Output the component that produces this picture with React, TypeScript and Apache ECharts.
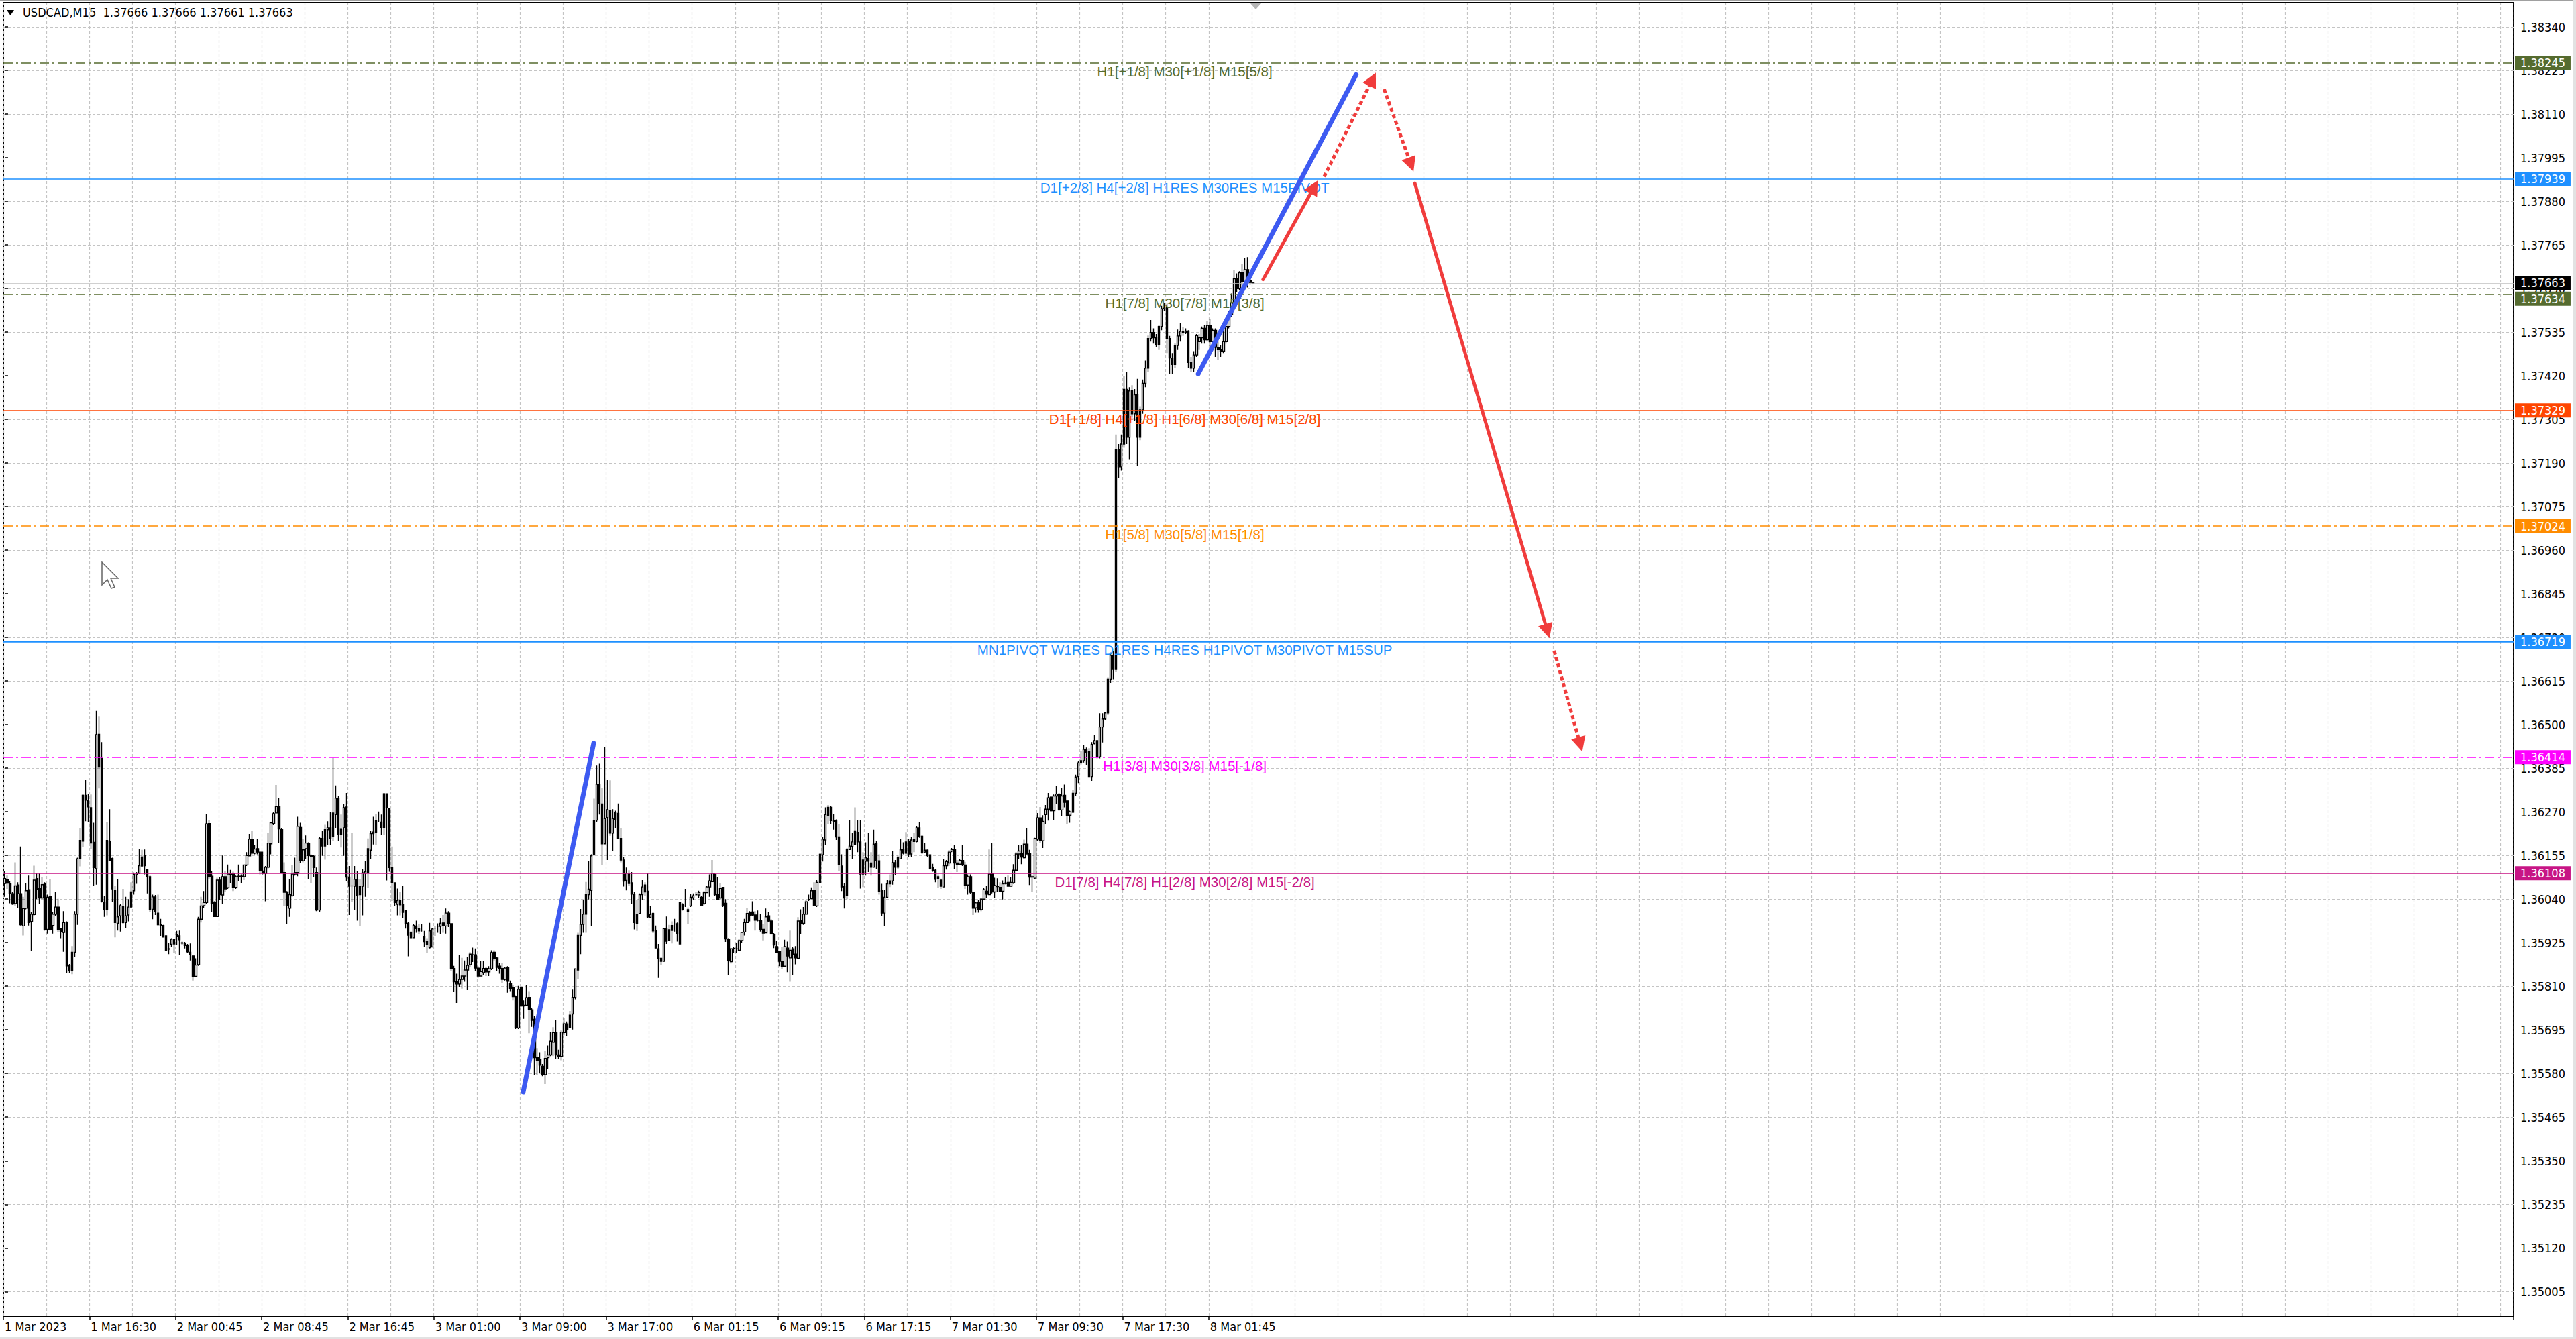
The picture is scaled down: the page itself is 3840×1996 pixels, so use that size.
import React, { useEffect, useRef } from 'react';
import * as echarts from 'echarts';

// the window holds 933 M15 slots; bars stop at 464, the rest is chart-shift space
const SLOTS = 933;
const BASE = 1.35;
const POINT = 0.00001;

// candles as [open, close, low, high], in points above 1.35000
const candles1 = [
  [1081,1094,1046,1114],[1092,1082,1067,1102],[1081,1054,1029,1087],[1054,1027,1025,1058],[1028,1075,1023,1137],
  [1077,1055,1016,1084],[1054,972,970,1179],[969,1015,944,1046],[1016,1062,1013,1081],[1065,978,970,1102],
  [981,1000,904,1005],[999,1090,996,1128],[1094,1065,1040,1108],[1068,1043,1028,1108],[1043,1078,1040,1099],
  [1080,960,957,1084],[960,1045,949,1052],[1047,960,957,1092],[970,1000,949,1005],[1000,1019,996,1059],
  [1019,960,953,1041],[962,953,937,963],[952,978,901,1008],[978,864,846,981],[866,851,846,869],
  [851,900,842,916],[900,1000,887,1008],[1000,1146,972,1149],[1146,1195,1126,1228],[1193,1314,1177,1317],
  [1314,1301,1245,1355],[1300,1283,1244,1317],[1281,1188,1173,1316],[1190,1123,1075,1241],[1120,1474,1078,1536],
  [1475,1388,1332,1521],[1411,1034,1031,1454],[1031,1013,993,1049],[1013,1195,997,1242],[1193,1142,1140,1277],
  [1147,1067,1033,1149],[1064,978,939,1075],[976,993,957,1092],[996,1023,954,1028],[1021,978,974,1067],
  [978,996,963,1046],[998,1019,981,1040],[1019,1059,1016,1084],[1062,1105,1052,1110],[1104,1108,1080,1111],
  [1108,1128,1106,1173],[1127,1151,1126,1170],[1155,1128,1105,1171],[1117,1099,1055,1120],[1099,1013,1006,1102],
  [1013,1046,987,1052],[1046,1008,998,1051],[1003,972,970,1052],[972,970,943,988],[970,940,939,972],
  [943,905,904,944],[909,908,895,925],[921,934,915,937],[922,933,898,935],[946,941,919,956],
  [943,933,892,957],[925,924,919,928],[923,918,910,927],[918,901,898,922],[900,893,878,923],
  [890,836,825,893],[836,866,835,884],[867,987,864,993],[987,1022,978,1046],[1023,1031,1016,1061],
  [1031,1238,1028,1264],[1239,1099,1094,1248],[1100,1028,1005,1114],[1031,994,993,1034],[994,1090,993,1096],
  [1090,1052,1037,1099],[1051,1099,1028,1155],[1099,1067,1058,1114],[1070,1106,1067,1131],[1105,1106,1081,1117],
  [1107,1070,1061,1112],[1071,1099,1067,1102],[1099,1100,1087,1131],[1099,1100,1081,1105],[1099,1130,1090,1131],
  [1130,1155,1127,1164],[1154,1198,1153,1212],[1198,1161,1158,1220],[1161,1172,1158,1182],[1173,1164,1158,1198],
  [1164,1114,1105,1165],[1114,1107,1105,1165],[1107,1124,1034,1127],[1124,1188,1121,1214],[1186,1241,1158,1244],
  [1239,1265,1235,1270],[1267,1284,1266,1341],[1284,1225,1188,1306],[1223,1110,1108,1226],[1110,1058,1022,1137],
  [1059,1022,974,1061],[1016,1052,993,1093],[1049,1106,1046,1130],[1106,1110,1102,1149],[1110,1232,1100,1257],
  [1229,1141,1134,1241],[1141,1170,1137,1199],[1173,1188,1146,1208],[1188,1155,1093,1190],[1154,1153,1081,1158],
  [1153,1123,1099,1157],[1110,1011,1008,1123],
];

const candles2 = [
  [1011,1200,1007,1204],[1200,1180,1154,1221],[1180,1223,1144,1236],[1223,1228,1182,1245],[1228,1200,1182,1269],
  [1206,1267,1193,1413],[1263,1306,1227,1340],[1306,1210,1193,1312],[1210,1224,1176,1263],[1228,1281,1154,1291],
  [1283,1098,1088,1320],[1098,1074,998,1127],[1075,1075,1032,1215],[1074,1092,1011,1127],[1092,1050,983,1113],
  [1052,1074,968,1092],[1074,1109,997,1120],[1108,1112,1046,1140],[1110,1173,1070,1200],[1169,1213,1145,1221],
  [1213,1217,1184,1257],[1217,1248,1183,1264],[1248,1248,1242,1271],[1243,1228,1210,1263],[1228,1318,1210,1320],
  [1318,1281,1089,1319],[1278,1123,1112,1281],[1123,1083,1035,1179],[1083,1031,1021,1084],[1026,1036,997,1068],
  [1036,1025,997,1060],[1026,1005,989,1075],[1011,976,962,1011],[976,945,889,980],[952,938,938,955],
  [938,970,938,975],[969,962,951,983],[962,956,948,973],[958,958,954,973],[941,928,914,956],
  [928,921,899,937],[912,956,910,977],[914,961,914,963],[963,963,942,968],[968,968,951,976],
  [968,976,948,990],[977,970,951,998],[969,1003,949,1015],[1003,975,966,1008],[975,856,850,976],
  [857,822,795,864],[823,816,766,843],[816,828,807,892],[828,837,804,885],[837,853,822,878],
  [853,865,800,888],[867,895,861,900],[893,893,874,912],[893,858,850,910],[858,837,832,863],
  [837,849,836,877],[846,857,839,877],[857,848,837,861],[848,856,837,863],[856,899,853,905],
  [900,884,878,905],[885,860,850,888],[863,857,843,871],[857,828,819,871],[828,858,825,860],
  [860,823,793,863],[818,804,797,825],[807,783,773,812],[783,700,697,786],[700,802,697,811],
  [807,758,756,809],[758,760,724,773],[760,780,758,814],[781,748,686,797],[748,720,703,752],
  [723,622,577,731],[622,615,577,647],[618,602,581,636],[599,577,573,605],[577,620,552,640],
  [622,629,591,654],[629,665,626,690],[662,688,626,702],[688,629,619,720],[629,626,618,643],
  [625,689,615,693],[688,711,681,727],[711,696,678,717],[702,734,700,745],[737,781,696,801],
  [781,856,776,857],[853,944,830,951],[944,973,895,1014],[973,1000,951,1038],[1000,1052,951,1085],
  [1052,1066,1039,1140],[1063,1154,969,1158],[1157,1246,1154,1305],[1248,1343,1242,1392],[1343,1291,1263,1397],
  [1291,1186,1130,1333],[1186,1252,1186,1441],[1255,1276,1143,1355],[1274,1214,1207,1353],[1214,1252,1168,1277],
  [1269,1250,1227,1273],[1266,1201,1200,1292],[1200,1143,1137,1228],[1143,1087,1073,1151],[1089,1108,1063,1123],
  [1108,1081,1074,1116],
];

const candles3 = [
  [1083,1053,1028,1111],[1053,978,960,1058],[976,999,956,1037],[1002,1052,1000,1055],[1052,1072,1037,1090],
  [1077,1059,1049,1084],[1061,993,990,1108],[992,999,990,1022],[1002,956,950,1005],[957,911,911,970],
  [909,884,832,922],[884,876,866,885],[876,962,875,963],[962,929,922,994],[931,959,929,972],
  [957,970,923,981],[974,974,954,988],[975,949,928,978],[922,1031,921,1033],[1027,1013,1010,1029],
  [1022,1022,1019,1067],[1012,1008,974,1018],[1022,1045,1019,1053],[1043,1049,1037,1055],[1052,1052,1049,1059],
  [1051,1057,1043,1062],[1045,1023,1021,1049],[1028,1057,1025,1061],[1057,1072,1057,1075],[1072,1088,1046,1105],
  [1086,1108,1084,1143],[1105,1052,1049,1108],[1053,1040,1037,1099],[1043,1068,1037,1082],[1071,1023,1019,1072],
  [1029,935,927,1040],[935,878,839,937],[875,909,870,911],[910,910,898,915],[909,909,898,925],
  [905,931,903,935],[931,952,925,953],[953,978,944,988],[978,1002,978,1016],[1005,996,981,1008],
  [1006,998,996,1034],[998,984,957,1008],[984,984,981,1010],[984,960,954,1000],[960,950,931,975],
  [951,993,950,1015],[996,982,980,1005],[982,949,946,987],[947,919,911,950],[915,900,898,929],
  [901,876,863,903],[876,863,856,915],[863,915,863,933],[911,890,847,928],[885,905,822,957],
  [909,895,839,915],[895,885,868,916],[884,982,882,992],[984,976,947,1013],[976,1000,972,1019],
  [1000,1033,1000,1037],[1039,1039,1035,1052],[1041,1062,1040,1071],[1062,1023,1021,1084],[1022,1084,1019,1090],
  [1084,1158,1081,1161],[1157,1198,1139,1205],[1196,1263,1183,1282],[1261,1282,1238,1288],[1282,1247,1238,1285],
  [1248,1245,1223,1264],[1246,1204,1196,1250],[1204,1130,1114,1238],[1127,1072,1061,1158],[1074,1043,1015,1081],
  [1049,1171,1040,1175],[1171,1180,1170,1249],[1179,1191,1145,1214],[1185,1220,1183,1282],[1216,1191,1164,1249],
  [1191,1106,1068,1248],[1106,1143,1072,1164],[1140,1149,1102,1190],[1147,1140,1111,1214],[1135,1124,1102,1164],
  [1124,1185,1123,1223],[1188,1141,1120,1193],[1141,1061,1052,1158],[1062,1003,996,1080],[1003,1045,968,1065],
  [1045,1080,1043,1090],[1080,1088,1072,1105],[1088,1136,1078,1167],[1136,1124,1104,1143],[1124,1149,1120,1155],
  [1146,1170,1145,1199],[1170,1161,1158,1190],[1161,1191,1158,1217],[1192,1159,1151,1199],[1159,1196,1152,1205],
  [1198,1192,1164,1214],[1192,1228,1190,1232],[1228,1205,1202,1242],[1206,1163,1159,1208],[1164,1169,1161,1188],
  [1169,1155,1152,1171],[1157,1121,1118,1158],[1123,1116,1112,1133],[1116,1092,1084,1120],[1094,1099,1069,1105],
  [1090,1074,1067,1094],[1072,1128,1071,1145],[1128,1139,1118,1143],
];

const candles4 = [
  [1135,1164,1127,1169],[1167,1171,1164,1175],[1171,1135,1120,1182],[1135,1132,1111,1143],[1132,1142,1129,1146],
  [1142,1130,1127,1183],[1130,1077,1067,1138],[1077,1099,1052,1105],[1099,1058,1053,1105],[1058,1016,998,1059],
  [1017,1030,1004,1033],[1031,1012,1004,1037],[1012,1040,1008,1043],[1040,1065,1037,1069],[1061,1053,1043,1076],
  [1052,1106,1051,1171],[1108,1059,1055,1188],[1059,1076,1043,1096],[1074,1073,1059,1095],[1071,1061,1058,1084],
  [1061,1080,1039,1089],[1082,1081,1079,1099],[1084,1074,1073,1102],[1074,1084,1073,1099],[1083,1116,1080,1132],
  [1116,1159,1114,1164],[1159,1167,1145,1182],[1161,1151,1132,1183],[1149,1185,1146,1197],[1185,1159,1158,1226],
  [1161,1098,1077,1170],[1098,1099,1059,1102],[1095,1200,1092,1202],[1198,1254,1194,1267],[1254,1194,1189,1283],
  [1194,1245,1175,1261],[1263,1277,1238,1288],[1277,1307,1247,1320],[1309,1273,1270,1312],[1273,1312,1248,1316],
  [1312,1317,1291,1338],[1316,1275,1273,1320],[1275,1312,1260,1334],[1314,1295,1282,1342],[1299,1260,1238,1300],
  [1261,1270,1241,1273],[1269,1319,1267,1328],[1319,1362,1312,1368],[1363,1399,1346,1403],[1399,1405,1395,1431],
  [1405,1435,1400,1446],[1435,1427,1394,1440],[1429,1363,1362,1438],[1363,1448,1352,1454],[1450,1458,1448,1474],
  [1458,1415,1411,1459],[1415,1494,1411,1530],[1494,1515,1453,1530],[1515,1531,1512,1533],
];

const candles5 = [
  [1531,1620,1525,1625],[1620,1683,1610,1690],[1683,1647,1620,1695],[1647,2226,1640,2265],[2226,2180,2150,2240],
  [2180,2240,2170,2265],[2240,2384,2230,2420],[2384,2258,2240,2431],[2258,2380,2200,2390],[2380,2320,2310,2395],
  [2320,2370,2300,2385],[2370,2258,2183,2412],[2258,2330,2250,2340],[2330,2400,2320,2410],[2400,2440,2390,2460],
  [2440,2518,2430,2526],[2518,2534,2510,2567],[2534,2520,2505,2545],[2520,2503,2495,2530],[2503,2550,2490,2555],
  [2550,2597,2540,2605],[2597,2600,2590,2613],[2600,2518,2480,2610],[2518,2467,2424,2525],[2467,2450,2424,2480],
  [2450,2500,2440,2505],[2500,2525,2490,2542],[2525,2537,2510,2560],[2537,2535,2525,2548],[2535,2538,2530,2545],
  [2538,2455,2440,2540],[2455,2440,2430,2470],[2440,2475,2430,2485],[2475,2526,2470,2530],[2510,2520,2490,2530],
  [2520,2545,2505,2550],[2545,2515,2505,2555],[2515,2553,2510,2565],[2553,2510,2498,2570],[2510,2540,2495,2545],
  [2540,2495,2470,2545],[2495,2490,2463,2510],[2490,2485,2470,2500],[2485,2510,2480,2540],[2510,2550,2505,2555],
  [2550,2581,2545,2590],[2581,2613,2575,2637],[2613,2676,2605,2700],[2676,2650,2640,2690],[2650,2692,2645,2696],
  [2692,2668,2660,2715],[2668,2700,2660,2731],[2700,2672,2653,2733],[2672,2666,2660,2675],[2666,2663,2661,2666],
];

const candlePoints = [...candles1, ...candles2, ...candles3, ...candles4, ...candles5];

// time labels, one every 32 bars from bar 0
const xTickLabels = [
  '1 Mar 2023', '1 Mar 16:30', '2 Mar 00:45', '2 Mar 08:45', '2 Mar 16:45',
  '3 Mar 01:00', '3 Mar 09:00', '3 Mar 17:00', '6 Mar 01:15', '6 Mar 09:15',
  '6 Mar 17:15', '7 Mar 01:30', '7 Mar 09:30', '7 Mar 17:30', '8 Mar 01:45',
];
const X_LABEL_EVERY = 32;
const X_GRID_EVERY = 16;

const yTicks = [
  1.35005, 1.3512, 1.35235, 1.3535, 1.35465, 1.3558, 1.35695, 1.3581, 1.35925, 1.3604,
  1.36155, 1.3627, 1.36385, 1.365, 1.36615, 1.3673, 1.36845, 1.3696, 1.37075, 1.3719,
  1.37305, 1.3742, 1.37535, 1.3765, 1.37765, 1.3788, 1.37995, 1.3811, 1.38225, 1.3834,
];
const Y_MIN = 1.3494;
const Y_MAX = 1.38404;

const levelPrices = [1.38245, 1.37939, 1.37634, 1.37329, 1.37024, 1.36719, 1.36414, 1.36108];
const levelTexts = [
  'H1[+1/8] M30[+1/8] M15[5/8]',
  'D1[+2/8] H4[+2/8] H1RES M30RES M15PIVOT',
  'H1[7/8] M30[7/8] M15[3/8]',
  'D1[+1/8] H4[+1/8] H1[6/8] M30[6/8] M15[2/8]',
  'H1[5/8] M30[5/8] M15[1/8]',
  'MN1PIVOT W1RES D1RES H4RES H1PIVOT M30PIVOT M15SUP',
  'H1[3/8] M30[3/8] M15[-1/8]',
  'D1[7/8] H4[7/8] H1[2/8] M30[2/8] M15[-2/8]',
];
const bidPrice = 1.37663;
const ohlcHeader = 'USDCAD,M15  1.37666 1.37666 1.37661 1.37663';

// hand-drawn objects, points are [bar index, price]
const blueTrends = [
  [[192.7, 1.35531], [218.9, 1.36451]],
  [[443.6, 1.37425], [502.3, 1.38214]],
];
const redArrows = [
  [[467.7, 1.37674], [486.7, 1.37918]],
  [[524.1, 1.37928], [573.4, 1.36747]],
];
const redDottedArrows = [
  [[490.4, 1.37945], [508.4, 1.38202]],
  [[512.7, 1.38176], [522.7, 1.37977]],
  [[575.9, 1.36695], [585.6, 1.36448]],
];
const LEVEL_TEXT_BAR = 438.6;
const SHIFT_MARK_BAR = 465;

const AXIS_FONT = '"DejaVu Sans Condensed", "DejaVu Sans", sans-serif';
const TEXT_FONT = '"Liberation Sans", Arial, sans-serif';
const DASH_DOT = [14, 5, 3, 5];
const GRID_DASH = [4, 3];

// tagShift nudges a price tag so it sits under the bid tag, like the terminal does
const levelStyles = [
  { color: '#556B2F', width: 1.5, dash: true, tagShift: 0 },
  { color: '#1E90FF', width: 1.5, dash: false, tagShift: 0 },
  { color: '#556B2F', width: 1.5, dash: true, tagShift: 6 },
  { color: '#FF4500', width: 1.5, dash: false, tagShift: 0 },
  { color: '#FF8C00', width: 1.5, dash: true, tagShift: 0 },
  { color: '#1E90FF', width: 2.5, dash: false, tagShift: 0 },
  { color: '#FF00FF', width: 1.5, dash: true, tagShift: 0 },
  { color: '#C71585', width: 1.5, dash: false, tagShift: 0 },
];

const showXLabel = (i: number) => i % X_LABEL_EVERY === 0 && i / X_LABEL_EVERY < xTickLabels.length;

export default function App() {
  const ref = useRef<HTMLDivElement>(null);

  useEffect(() => {
    if (!ref.current) return;
    const chart = echarts.init(ref.current, null, { renderer: 'svg' });

    const categories = Array.from({ length: SLOTS }, (_, i) => String(i));
    const candles = candlePoints.map((c) => c.map((p) => +(BASE + p * POINT).toFixed(5)));

    const levelLines: any[] = [
      {
        yAxis: bidPrice,
        lineStyle: { color: '#c0c0c0', width: 1.5, type: 'solid' },
        label: { formatter: bidPrice.toFixed(5), backgroundColor: '#000', offset: [0, -1] },
      },
      ...levelPrices.map((p, i) => ({
        yAxis: p,
        lineStyle: { color: levelStyles[i].color, width: levelStyles[i].width, type: levelStyles[i].dash ? DASH_DOT : 'solid' },
        label: { formatter: p.toFixed(5), backgroundColor: levelStyles[i].color, offset: [0, levelStyles[i].tagShift] },
      })),
    ];

    chart.setOption({
      animation: false,
      backgroundColor: '#fff',
      textStyle: { fontFamily: AXIS_FONT },
      grid: { left: 5, right: 93, top: 4, bottom: 34, show: true, borderColor: '#000', borderWidth: 2, backgroundColor: '#fff' },
      xAxis: [
        {
          type: 'category',
          data: categories,
          boundaryGap: true,
          axisLine: { show: false },
          axisTick: { show: true, interval: showXLabel, length: 5, lineStyle: { color: '#000', width: 1.5 } },
          axisLabel: {
            interval: showXLabel,
            formatter: (_v: string, i: number) => xTickLabels[i / X_LABEL_EVERY] ?? '',
            align: 'left',
            margin: 6,
            color: '#000',
            fontSize: 18,
            fontFamily: AXIS_FONT,
          },
          splitLine: {
            show: true,
            interval: (i: number) => i % X_GRID_EVERY === 0,
            lineStyle: { color: '#c4c4c4', width: 1.2, type: GRID_DASH },
          },
        },
        { type: 'value', min: -0.5, max: SLOTS - 0.5, show: false },
      ],
      yAxis: {
        type: 'value',
        position: 'right',
        min: Y_MIN,
        max: Y_MAX,
        axisLine: { show: false },
        axisTick: { show: true, customValues: yTicks, length: 5, lineStyle: { color: '#000', width: 1.5 } },
        axisLabel: {
          customValues: yTicks,
          formatter: (v: number) => v.toFixed(5),
          color: '#000',
          fontSize: 18,
          margin: 10,
          fontFamily: AXIS_FONT,
        },
        splitLine: { show: true, lineStyle: { color: '#c4c4c4', width: 1.2, type: GRID_DASH } },
      },
      graphic: [
        { type: 'rect', shape: { x: 0, y: 0, width: 3840, height: 2 }, style: { fill: '#a0a0a0' }, silent: true },
        { type: 'rect', shape: { x: 0, y: 1993, width: 3840, height: 3 }, style: { fill: '#e2e2e2' }, silent: true },
        { type: 'rect', shape: { x: 3836, y: 0, width: 4, height: 1996 }, style: { fill: '#e2e2e2' }, silent: true },
        { type: 'polygon', shape: { points: [[10, 15], [21, 15], [15.5, 23]] }, style: { fill: '#000' }, silent: true, z: 10 },
        {
          type: 'text',
          left: 34,
          top: 9,
          z: 10,
          silent: true,
          style: { text: ohlcHeader, fill: '#000', fontSize: 18, fontFamily: AXIS_FONT },
        },
        // mouse pointer left on the screenshot
        {
          type: 'polygon',
          z: 10,
          silent: true,
          shape: { points: [[152, 838], [152, 872], [160, 864], [166, 877], [171, 875], [165, 862], [176, 862]] },
          style: { fill: '#fff', stroke: '#666', lineWidth: 1.5 },
        },
      ],
      series: [
        {
          type: 'candlestick',
          xAxisIndex: 0,
          data: candles,
          barWidth: 3,
          silent: true,
          itemStyle: { color: '#fff', color0: '#000', borderColor: '#000', borderColor0: '#000', borderWidth: 1.4 },
          markLine: {
            silent: true,
            precision: 5,
            symbol: ['none', 'none'],
            label: {
              show: true,
              position: 'end',
              distance: 2,
              color: '#fff',
              fontSize: 18,
              fontFamily: AXIS_FONT,
              padding: [2, 8, 1, 8],
            },
            data: levelLines,
          },
          markPoint: {
            silent: true,
            symbol: 'triangle',
            symbolRotate: 180,
            symbolSize: [18, 10],
            symbolOffset: [0, 5],
            itemStyle: { color: '#b4b4b4' },
            label: { show: false },
            data: [{ coord: [SHIFT_MARK_BAR, Y_MAX] }],
          },
        },
        {
          type: 'custom',
          xAxisIndex: 1,
          silent: true,
          z: 4,
          data: levelPrices.map((p) => [LEVEL_TEXT_BAR, p]),
          renderItem: (params: any, api: any) => {
            const pt = api.coord([api.value(0), api.value(1)]);
            return {
              type: 'text',
              x: pt[0],
              y: pt[1] + 2,
              style: {
                text: levelTexts[params.dataIndex],
                fill: levelStyles[params.dataIndex].color,
                fontSize: 20.5,
                fontFamily: TEXT_FONT,
                align: 'center',
                verticalAlign: 'top',
              },
            };
          },
        },
        {
          type: 'lines',
          coordinateSystem: 'cartesian2d',
          xAxisIndex: 1,
          silent: true,
          z: 5,
          symbol: ['none', 'none'],
          lineStyle: { color: '#3d5af1', width: 7, cap: 'round', opacity: 1 },
          data: blueTrends.map((c) => ({ coords: c })),
        },
        {
          type: 'lines',
          coordinateSystem: 'cartesian2d',
          xAxisIndex: 1,
          silent: true,
          z: 6,
          symbol: ['none', 'triangle'],
          symbolSize: 22,
          lineStyle: { color: '#f03c3c', width: 5, cap: 'round', opacity: 1 },
          data: redArrows.map((c) => ({ coords: c })),
        },
        {
          type: 'lines',
          coordinateSystem: 'cartesian2d',
          xAxisIndex: 1,
          silent: true,
          z: 6,
          symbol: ['none', 'triangle'],
          symbolSize: 22,
          lineStyle: { color: '#f03c3c', width: 5, type: [6, 4], opacity: 1 },
          data: redDottedArrows.map((c) => ({ coords: c })),
        },
      ],
    });

    return () => chart.dispose();
  }, []);

  return (
    <div style={{ position: 'absolute', left: 0, top: 0, width: 3840, height: 1996, background: '#fff' }}>
      <div ref={ref} style={{ width: 3840, height: 1996 }} />
    </div>
  );
}
